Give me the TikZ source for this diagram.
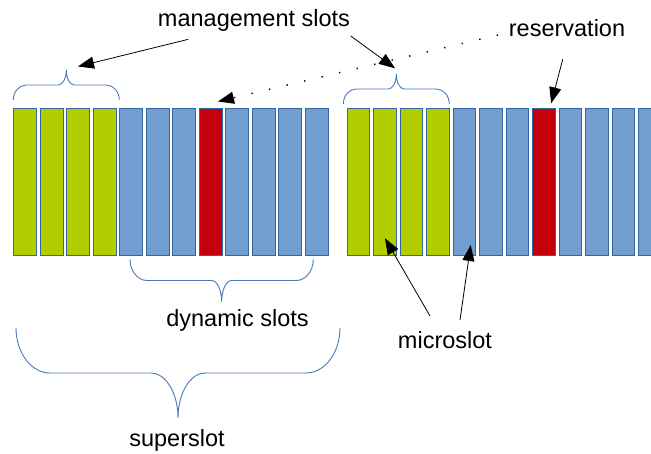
\documentclass[tikz,border=0pt]{standalone}
\usepackage{fontspec}
\setmainfont{Liberation Sans}
\usetikzlibrary{arrows.meta}

\definecolor{slotgreen}{HTML}{B3CE00}
\definecolor{slotblue}{HTML}{729FCF}
\definecolor{slotred}{HTML}{C5000B}
\definecolor{slotedge}{HTML}{3465A4}
\definecolor{braceblue}{HTML}{4A7AB5}

% curly brace: #1 left x, #2 right x, #3 end y, #4 tip y, #5 end curl run, #6 tip curl run
\newcommand\slotbrace[6]{%
  \pgfmathsetmacro\bxm{(#1+#2)/2}%
  \pgfmathsetmacro\byh{(#3+#4)/2}%
  \draw[bracestyle] (#1,#3)
    .. controls (#1,{#3+0.55*(\byh-#3)}) and ({#1+0.45*#5},\byh) .. ({#1+#5},\byh)
    -- ({\bxm-#6},\byh)
    .. controls ({\bxm-0.45*#6},\byh) and (\bxm,{\byh+0.45*(#4-\byh)}) .. (\bxm,#4)
    .. controls (\bxm,{\byh+0.45*(#4-\byh)}) and ({\bxm+0.45*#6},\byh) .. ({\bxm+#6},\byh)
    -- ({#2-#5},\byh)
    .. controls ({#2-0.45*#5},\byh) and (#2,{#3+0.55*(\byh-#3)}) .. (#2,#3);
}

\begin{document}
\begin{tikzpicture}[x=1pt,y=-1pt,
  slot/.style={draw=slotedge, line width=0.8pt, minimum width=22.7pt,
    minimum height=146.7pt, inner sep=0pt, anchor=north west},
  tag/.style={font=\fontsize{23.5}{28}\selectfont, anchor=base, inner sep=0pt},
  pointer/.style={draw=black, line width=0.8pt, -{Triangle[length=16pt,width=12pt]}},
  dotpointer/.style={pointer, line width=1.4pt, dash pattern=on 1.4pt off 16.6pt},
  bracestyle/.style={draw=braceblue, line width=0.9pt}]

\fill[white] (0,0) rectangle (651,453);
\useasboundingbox (0,0) rectangle (651,453);

% two superslots of twelve microslots each
\begin{scope}
  \clip (0,0) rectangle (651,453);
  \foreach \g/\x in {a/13.3, b/346.7} {
    \foreach \i in {0,...,11} {
      \ifnum\i<4
        \def\fillc{slotgreen}
      \else\ifnum\i=7
        \def\fillc{slotred}
      \else
        \def\fillc{slotblue}
      \fi\fi
      \node[slot, fill=\fillc] (\g\i) at ({\x+26.5*\i},108.3) {};
    }
  }
\end{scope}

% braces
\slotbrace{13.3}{119.3}{100}{70}{13}{8}
\slotbrace{343.3}{449.3}{104}{74}{13}{8}
\slotbrace{130}{313.3}{259.3}{301.7}{17}{10}
\slotbrace{16}{340}{328}{418}{34}{27}

% labels
\node[tag] (mg)  at (254,26.7)  {management slots};
\node[tag] (res) at (567,36.7)  {reservation};
\node[tag] (dyn) at (237.5,326) {dynamic slots};
\node[tag] (mic) at (445,348.3) {microslot};
\node[tag] (sup) at (177,446.7) {superslot};

% pointer ends
\coordinate (mgL)   at (188.3,39.3);
\coordinate (mgR)   at (350.7,36);
\coordinate (tipL)  at (78,66.5);
\coordinate (tipR)  at (395,68.3);
\coordinate (resS)  at (562.7,59.3);
\coordinate (resT)  at (551.2,103.3);
\coordinate (resD)  at (498,35);
\coordinate (resU)  at (218,101.5);
\coordinate (micL)  at (430,316);
\coordinate (micR)  at (460,320);
\coordinate (micLT) at (385,238.3);
\coordinate (micRT) at (470.7,245);

\draw[pointer] (mgL) -- (tipL);
\draw[pointer] (mgR) -- (tipR);
\draw[pointer] (resS) -- (resT);
\draw[dotpointer] (resD) -- (resU);
\draw[pointer] (micL) -- (micLT);
\draw[pointer] (micR) -- (micRT);
\end{tikzpicture}
\end{document}
